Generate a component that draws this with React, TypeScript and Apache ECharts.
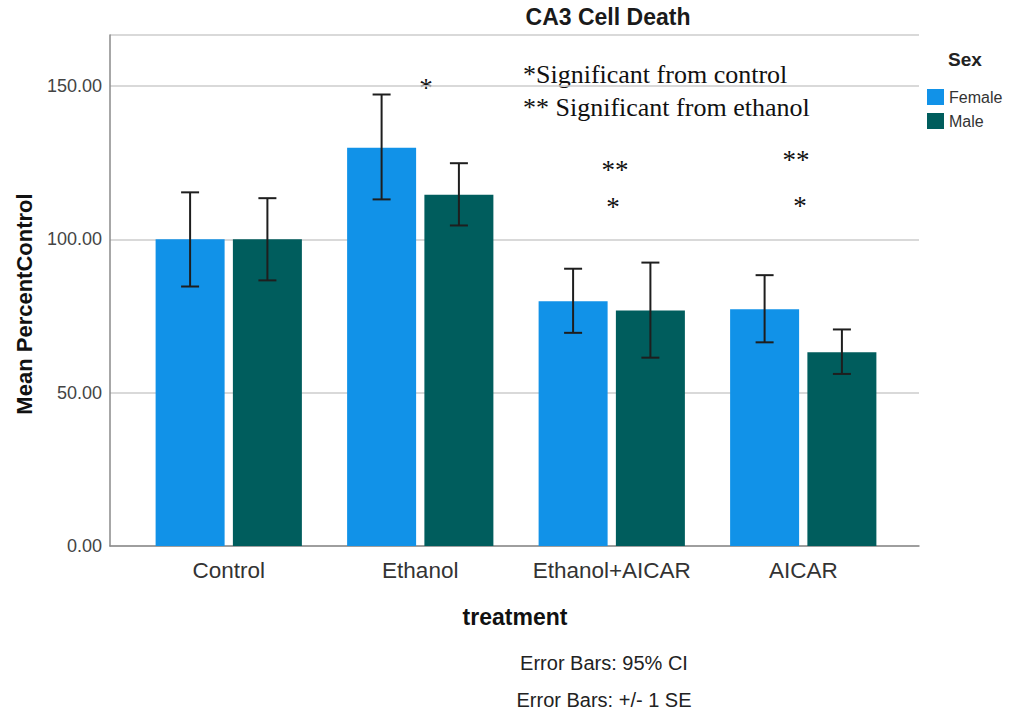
import React, { useEffect, useRef } from "react";
import * as echarts from "echarts";

const categories = ["Control", "Ethanol", "Ethanol+AICAR", "AICAR"];
const seriesNames = ["Female", "Male"];
const femaleMeans = [100, 129.8, 79.8, 77.2];
const maleMeans = [100, 114.5, 76.8, 63.2];
const femaleLow = [84.6, 113.0, 69.5, 66.4];
const femaleHigh = [115.3, 147.2, 90.4, 88.3];
const maleLow = [86.6, 104.5, 61.4, 56.1];
const maleHigh = [113.4, 124.8, 92.4, 70.6];
const yMin = 0;
const yMax = 166.6;
const yInterval = 50;

const FONT = "'Liberation Sans', Arial, sans-serif";
const SERIF = "'Liberation Serif', 'Times New Roman', serif";
const FEMALE_COLOR = "#1192e8";
const MALE_COLOR = "#005d5d";
const BAR_W = 69;
const BAR_GAP_PX = 8.3;

function errorSeries(low: number[], high: number[], side: number) {
  return {
    type: "custom",
    xAxisIndex: 1,
    yAxisIndex: 1,
    z: 10,
    silent: true,
    data: categories.map((_, i) => [i, low[i], high[i]]),
    encode: { x: 0, y: [1, 2] },
    renderItem: (params: any, api: any) => {
      const i = api.value(0);
      const lo = api.coord([i, api.value(1)]);
      const hi = api.coord([i, api.value(2)]);
      const x = lo[0] + side * (BAR_W + BAR_GAP_PX) / 2;
      const cap = 9;
      const style = { stroke: "#1e1e1e", lineWidth: 2 };
      return {
        type: "group",
        children: [
          { type: "line", shape: { x1: x, y1: lo[1], x2: x, y2: hi[1] }, style },
          { type: "line", shape: { x1: x - cap, y1: lo[1], x2: x + cap, y2: lo[1] }, style },
          { type: "line", shape: { x1: x - cap, y1: hi[1], x2: x + cap, y2: hi[1] }, style },
        ],
      };
    },
  };
}

export default function App() {
  const ref = useRef<HTMLDivElement>(null);
  useEffect(() => {
    if (!ref.current) return;
    const chart = echarts.init(ref.current, null, { renderer: "svg" });
    const starStyle = { fontFamily: SERIF, fontSize: 27, fill: "#111", textAlign: "center", textVerticalAlign: "middle" };
    chart.setOption({
      animation: false,
      backgroundColor: "#ffffff",
      grid: [
        { left: 110, right: 94, top: 35, bottom: 169 },
        { left: 133, right: 114, top: 35, bottom: 169 },
      ],
      xAxis: [
        {
          gridIndex: 0,
          type: "value",
          min: 0,
          max: 1,
          axisLine: { show: true, lineStyle: { color: "#8a8a8a", width: 1.5 } },
          axisTick: { show: false },
          axisLabel: { show: false },
          splitLine: { show: false },
        },
        {
          gridIndex: 1,
          type: "category",
          data: categories,
          axisLine: { show: false },
          axisTick: { show: false },
          axisLabel: { color: "#333", fontFamily: FONT, fontSize: 22.5, margin: 13, interval: 0 },
        },
      ],
      yAxis: [
        {
          gridIndex: 0,
          type: "value",
          min: yMin,
          max: yMax,
          interval: yInterval,
          axisLine: { show: true, lineStyle: { color: "#8a8a8a", width: 1.5 } },
          axisTick: { show: false },
          axisLabel: {
            color: "#444",
            fontFamily: FONT,
            fontSize: 18,
            margin: 8,
            showMaxLabel: false,
            formatter: (v: number) => v.toFixed(2),
          },
          splitLine: { show: true, lineStyle: { color: "#cccccc", width: 1.5 } },
        },
        {
          gridIndex: 1,
          type: "value",
          min: yMin,
          max: yMax,
          interval: yInterval,
          show: false,
          splitLine: { show: false },
        },
      ],
      legend: {
        orient: "vertical",
        left: 922,
        top: 84,
        itemWidth: 17,
        itemHeight: 16,
        itemGap: 8,
        icon: "rect",
        data: seriesNames,
        textStyle: { fontFamily: FONT, fontSize: 16, color: "#333" },
      },
      series: [
        {
          name: seriesNames[0],
          type: "bar",
          xAxisIndex: 1,
          yAxisIndex: 1,
          barWidth: BAR_W,
          barGap: ((BAR_GAP_PX / BAR_W) * 100).toFixed(1) + "%",
          itemStyle: { color: FEMALE_COLOR },
          data: femaleMeans,
        },
        {
          name: seriesNames[1],
          type: "bar",
          xAxisIndex: 1,
          yAxisIndex: 1,
          barWidth: BAR_W,
          barGap: ((BAR_GAP_PX / BAR_W) * 100).toFixed(1) + "%",
          itemStyle: { color: MALE_COLOR },
          data: maleMeans,
        },
        errorSeries(femaleLow, femaleHigh, -1),
        errorSeries(maleLow, maleHigh, 1),
      ],
      graphic: [
        {
          type: "text",
          x: 608,
          y: 17,
          style: { text: "CA3 Cell Death", fontFamily: FONT, fontWeight: "bold", fontSize: 23, fill: "#1a1a1a", textAlign: "center", textVerticalAlign: "middle" },
        },
        {
          type: "text",
          x: 24,
          y: 304,
          rotation: Math.PI / 2,
          style: { text: "Mean PercentControl", fontFamily: FONT, fontWeight: "bold", fontSize: 22, fill: "#111", textAlign: "center", textVerticalAlign: "middle" },
        },
        {
          type: "text",
          x: 515,
          y: 617,
          style: { text: "treatment", fontFamily: FONT, fontWeight: "bold", fontSize: 23, fill: "#111", textAlign: "center", textVerticalAlign: "middle" },
        },
        {
          type: "text",
          x: 604,
          y: 663,
          style: { text: "Error Bars: 95% CI", fontFamily: FONT, fontSize: 20, fill: "#222", textAlign: "center", textVerticalAlign: "middle" },
        },
        {
          type: "text",
          x: 604,
          y: 700,
          style: { text: "Error Bars: +/- 1 SE", fontFamily: FONT, fontSize: 20, fill: "#222", textAlign: "center", textVerticalAlign: "middle" },
        },
        {
          type: "text",
          x: 965,
          y: 59,
          style: { text: "Sex", fontFamily: FONT, fontWeight: "bold", fontSize: 19, fill: "#222", textAlign: "center", textVerticalAlign: "middle" },
        },
        {
          type: "text",
          x: 523,
          y: 74,
          style: { text: "*Significant from control", fontFamily: SERIF, fontSize: 26, fill: "#111", textAlign: "left", textVerticalAlign: "middle" },
        },
        {
          type: "text",
          x: 523,
          y: 107,
          style: { text: "** Significant from ethanol", fontFamily: SERIF, fontSize: 26, fill: "#111", textAlign: "left", textVerticalAlign: "middle" },
        },
        { type: "text", x: 426, y: 88, style: { ...starStyle, text: "*" } },
        { type: "text", x: 615, y: 170, style: { ...starStyle, text: "**" } },
        { type: "text", x: 613, y: 207, style: { ...starStyle, text: "*" } },
        { type: "text", x: 796, y: 160, style: { ...starStyle, text: "**" } },
        { type: "text", x: 800, y: 206, style: { ...starStyle, text: "*" } },
      ],
    });
    return () => chart.dispose();
  }, []);
  return (
    <div
      ref={ref}
      style={{ position: "absolute", left: 0, top: 0, width: 1013, height: 715, background: "#fff" }}
    />
  );
}
